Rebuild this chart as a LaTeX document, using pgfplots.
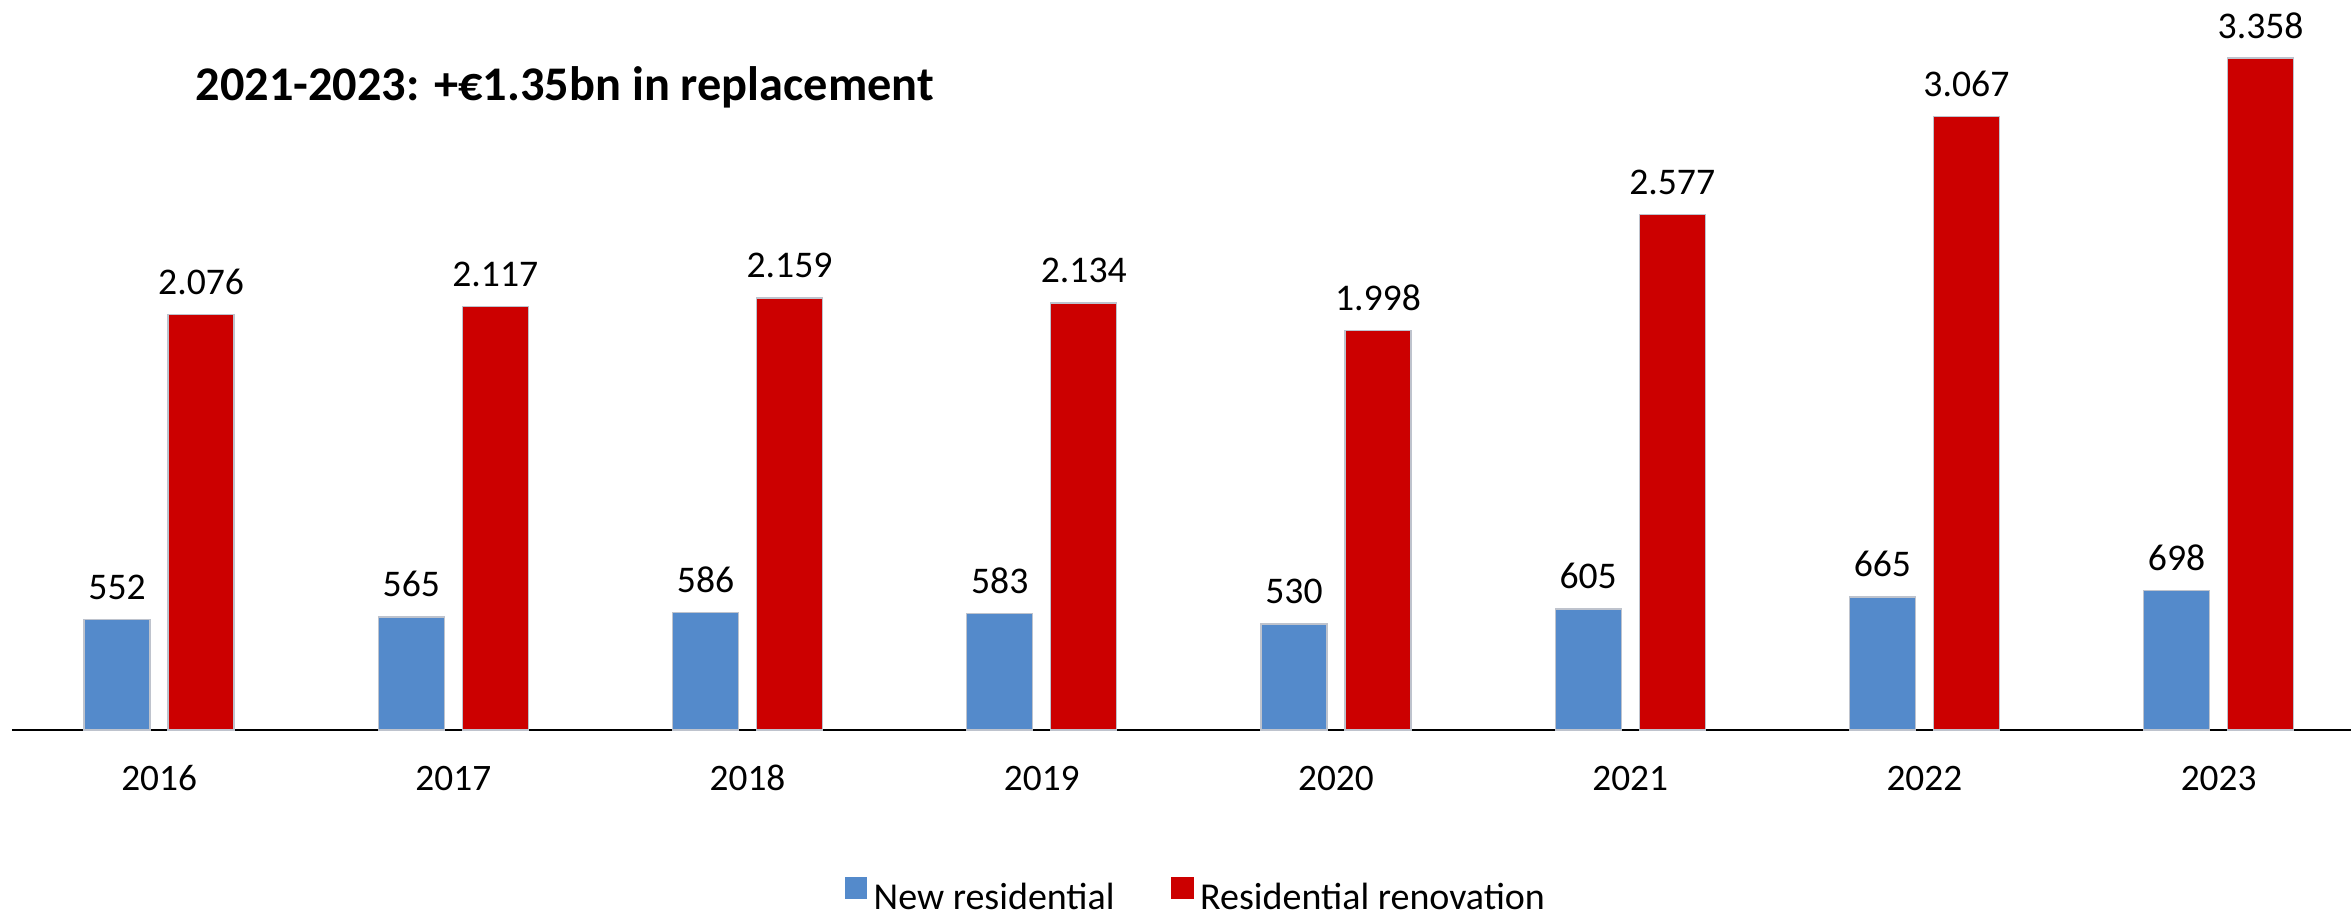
\documentclass[border=0pt]{standalone}
\usepackage{fontspec}
\setmainfont{Carlito}
\usepackage{pgfplots}
\pgfplotsset{compat=1.18}
\definecolor{barblue}{RGB}{84,138,203}
\definecolor{barred}{RGB}{204,0,0}
\definecolor{baredge}{RGB}{190,195,205}
\begin{document}
\begin{tikzpicture}
\begin{axis}[
  scale only axis, width=701.7pt, height=219pt,
  xmin=-0.5, xmax=7.45, ymin=0, ymax=3648,
  axis x line=bottom, axis y line=none,
  axis line style={line width=0.6pt, -},
  xtick={0,...,7}, xticklabels={2016,2017,2018,2019,2020,2021,2022,2023},
  major tick length=0pt,
  ybar=5.4pt, bar width=19.8pt,
  clip=false,
  font=\fontsize{11.2}{13}\selectfont,
  ticklabel style={font=\fontsize{11.2}{13}\selectfont},
  xticklabel style={anchor=base, yshift=-18pt},
  /pgf/number format/assume math mode=true,
  /pgf/number format/1000 sep={.},
  nodes near coords,
  nodes near coords style={anchor=base, yshift=6pt, font=\fontsize{11.3}{13}\selectfont},
  legend style={at={(0.5,0)}, anchor=center, yshift=-50.5pt, xshift=5pt, draw=none,
    font=\fontsize{11.4}{13}\selectfont,
    /tikz/every even column/.append style={column sep=15pt}},
  legend columns=2,
]
\addplot[fill=barblue, draw=baredge, line width=0.4pt,
  legend image code/.code={\fill[barblue] (0pt,0pt) rectangle (6.3pt,6.3pt);}]
  coordinates {(0,552) (1,565) (2,586) (3,583) (4,530) (5,605) (6,665) (7,698)};
\addlegendentry{New residential}
\addplot[fill=barred, draw=baredge, line width=0.4pt,
  legend image code/.code={\fill[barred] (0pt,0pt) rectangle (6.3pt,6.3pt);}]
  coordinates {(0,2076) (1,2117) (2,2159) (3,2134) (4,1998) (5,2577) (6,3067) (7,3358)};
\addlegendentry{Residential renovation}
\coordinate (O) at (rel axis cs:0,0);
\coordinate (T) at (rel axis cs:1,1);
\node[anchor=base west, font=\bfseries\fontsize{14.5}{17}\selectfont, inner sep=0pt]
  at ([xshift=54.9pt, yshift=189pt]rel axis cs:0,0) {2021-2023: +€1.35bn in replacement};
\end{axis}
\pgfresetboundingbox
\path[use as bounding box] ([xshift=-3.6pt,yshift=-56.1pt]O) rectangle (T);
\end{tikzpicture}
\end{document}
